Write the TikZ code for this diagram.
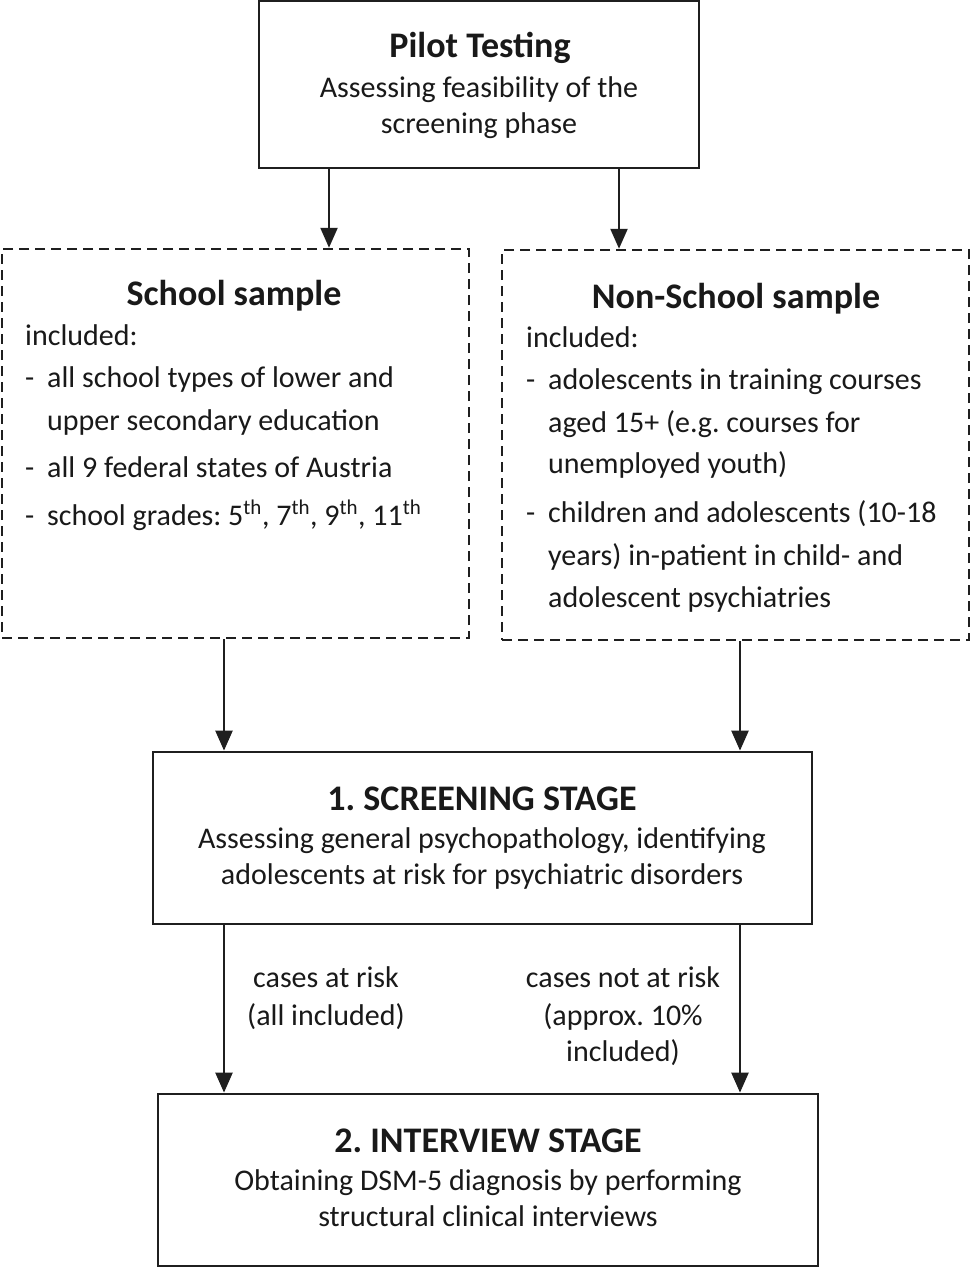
\documentclass[tikz,border=0pt]{standalone}
\usepackage{fontspec}
\setmainfont{Carlito}
\usetikzlibrary{arrows.meta}
\frenchspacing
\begin{document}
\begin{tikzpicture}[x=1pt,y=-1pt,
  solidbox/.style={draw=black!88, line width=2.8pt, rectangle, inner sep=0pt},
  dashbox/.style={draw=black!88, line width=2.5pt, rectangle, inner sep=0pt, dash pattern=on 10pt off 6pt},
  arr/.style={draw=black!88, line width=2.4pt, -{Triangle[length=20pt,width=17pt]}},
  body/.style={inner sep=0pt, anchor=base, font=\fontsize{30}{36}\selectfont, text=black!90},
  bodyl/.style={body, anchor=base west},
  title/.style={inner sep=0pt, anchor=base, font=\fontsize{36}{42}\selectfont\bfseries, text=black!90},
  sup/.style={}
]
\useasboundingbox (0,0) rectangle (971,1268);
\fill[white] (0,0) rectangle (971,1268);

% boxes
\node[solidbox, minimum width=440pt, minimum height=167pt] (pilot) at (479,84.5) {};
\node[dashbox, minimum width=467pt, minimum height=389pt] (school) at (235.5,443.5) {};
\node[dashbox, minimum width=467pt, minimum height=390pt] (nonschool) at (735.5,445) {};
\node[solidbox, minimum width=659pt, minimum height=172pt] (screen) at (482.5,838) {};
\node[solidbox, minimum width=660pt, minimum height=172pt] (interview) at (488,1180) {};

% pilot text
\node[title] (pt1) at (480,58) {Pilot Testing};
\node[body] (pt2) at (479,98) {Assessing feasibility of the};
\node[body] (pt3) at (479,134) {screening phase};

% school text
\node[title] (st1) at (234,305) {School sample};
\node[bodyl] (st2) at (25,345) {included:};
\node[bodyl] (st3) at (25,387) {\makebox[22pt][l]{-}all school types of lower and};
\node[bodyl] (st4) at (25,430) {\hspace*{22pt}upper secondary education};
\node[bodyl] (st5) at (25,477) {\makebox[22pt][l]{-}all 9 federal states of Austria};
\node[bodyl] (st6) at (25,525) {\makebox[22pt][l]{-}school grades: 5\raisebox{1.5pt}{\textsuperscript{th}}, 7\raisebox{1.5pt}{\textsuperscript{th}}, 9\raisebox{1.5pt}{\textsuperscript{th}}, 11\raisebox{1.5pt}{\textsuperscript{th}}};

% non-school text
\node[title] (nt1) at (736,308) {Non-School sample};
\node[bodyl] (nt2) at (526,347) {included:};
\node[bodyl] (nt3) at (526,389) {\makebox[22pt][l]{-}adolescents in training courses};
\node[bodyl] (nt4) at (526,432) {\hspace*{22pt}aged 15+ (e.g. courses for};
\node[bodyl] (nt5) at (526,473) {\hspace*{22pt}unemployed youth)};
\node[bodyl] (nt6) at (526,522) {\makebox[22pt][l]{-}children and adolescents (10-18};
\node[bodyl] (nt7) at (526,565) {\hspace*{22pt}years) in-patient in child- and};
\node[bodyl] (nt8) at (526,607) {\hspace*{22pt}adolescent psychiatries};

% screening text
\node[title] (sc1) at (482,810) {1. SCREENING STAGE};
\node[body] (sc2) at (482,848) {Assessing general psychopathology, identifying};
\node[body] (sc3) at (482,884) {adolescents at risk for psychiatric disorders};

% interview text
\node[title] (iv1) at (488,1152) {2. INTERVIEW STAGE};
\node[body] (iv2) at (488,1190) {Obtaining DSM-5 diagnosis by performing};
\node[body] (iv3) at (488,1226) {structural clinical interviews};

% arrow x positions
\coordinate (xa) at (329,0);
\coordinate (xb) at (619,0);
\coordinate (xc) at (224,0);
\coordinate (xd) at (740,0);

% arrows
\draw[arr] (pilot.south -| xa) -- (school.north -| xa);
\draw[arr] (pilot.south -| xb) -- (nonschool.north -| xb);
\draw[arr] (school.south -| xc) -- (screen.north -| xc);
\draw[arr] (nonschool.south -| xd) -- (screen.north -| xd);
\draw[arr] (screen.south -| xc) -- (interview.north -| xc);
\draw[arr] (screen.south -| xd) -- (interview.north -| xd);

% arrow labels
\node[body] (l1) at (326,987) {cases at risk};
\node[body] (l2) at (326,1025) {(all included)};
\node[body] (r1) at (623,987) {cases not at risk};
\node[body] (r2) at (623,1025) {(approx. 10\%};
\node[body] (r3) at (623,1061) {included)};
\end{tikzpicture}
\end{document}
